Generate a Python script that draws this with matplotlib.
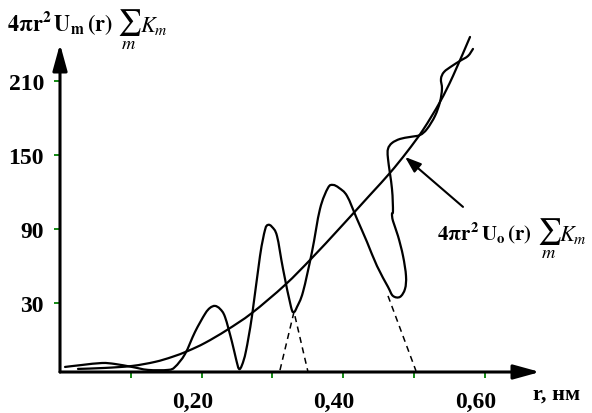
import numpy as np
import matplotlib.pyplot as plt
from matplotlib.path import Path
from matplotlib.patches import PathPatch
from matplotlib.transforms import ScaledTranslation

plt.rcParams['font.family'] = ['Liberation Serif', 'DejaVu Serif']
plt.rcParams['mathtext.fontset'] = 'stix'

# 4pi r^2 U_m(r) sum K_m  (oscillating curve)
r_m = [0.0071, 0.0311, 0.0593, 0.0777, 0.1017, 0.1243, 0.1525, 0.1624, 0.1766, 0.1907,
       0.2048, 0.2119, 0.2189, 0.2260, 0.2331, 0.2429, 0.2486, 0.2528, 0.2571, 0.2627,
       0.2712, 0.2825, 0.2896, 0.2938, 0.2994, 0.3065, 0.3150, 0.3263, 0.3305, 0.3347,
       0.3432, 0.3559, 0.3672, 0.3785, 0.3856, 0.3941, 0.4054, 0.4195, 0.4336, 0.4477,
       0.4633, 0.4703, 0.4802, 0.4873, 0.4887, 0.4845, 0.4774, 0.4703, 0.4689, 0.4703,
       0.4689, 0.4633, 0.4633, 0.4689, 0.4802, 0.4944, 0.5085, 0.5184, 0.5297, 0.5367,
       0.5395, 0.5381, 0.5424, 0.5537, 0.5650, 0.5763, 0.5833]
g_m = [-21.9, -20.3, -18.7, -19.5, -21.9, -24.3, -24.3, -21.9, -11.4, 6.5,
       21.1, 26.0, 27.6, 25.2, 18.6, -1.6, -15.4, -23.5, -20.3, -8.9,
       19.5, 68.1, 89.3, 93.3, 91.7, 84.3, 57.6, 26.7, 22.7, 26.7,
       38.9, 71.4, 106.2, 123.3, 125.7, 123.3, 116.8, 98.1, 79.5, 60.0,
       43.0, 35.7, 34.9, 41.4, 51.9, 68.1, 84.3, 96.5, 102.2, 104.6,
       122.5, 146.8, 154.9, 159.7, 163.0, 164.6, 166.2, 171.1, 181.7, 193.0,
       203.6, 211.7, 217.3, 222.2, 226.3, 230.3, 236.0]

# 4pi r^2 U_o(r) sum K_m  (smooth curve)
r_o = [0.0254, 0.0636, 0.1017, 0.1342, 0.1582, 0.1808, 0.2048, 0.2359, 0.2712, 0.3178,
       0.3559, 0.3955, 0.4379, 0.4661, 0.4901, 0.5127, 0.5367, 0.5551, 0.5791]
g_o = [-23.5, -22.7, -21.1, -17.8, -13.8, -8.9, -2.4, 8.1, 21.9, 44.6,
       66.5, 90.9, 117.6, 135.5, 152.5, 170.3, 193.0, 214.1, 245.7]

# dashed continuations
r_d1 = [0.3107, 0.3305, 0.3503]
g_d1 = [-24.5, 22.7, -26.0]
r_d2 = [0.4633, 0.5028]
g_d2 = [35.7, -25.1]

x_ticks = [0.1, 0.2, 0.3, 0.4, 0.5, 0.6]
x_labels = ['', '0,20', '', '0,40', '', '0,60']
y_ticks = [30, 90, 150, 210]
y_labels = ['30', '90', '150', '210']


def smooth_path(xs, ys):
    # bezier segments passing through the read points
    p = np.column_stack([xs, ys])
    verts = [p[0]]
    codes = [Path.MOVETO]
    n = len(p)
    for i in range(n - 1):
        p0 = p[i - 1] if i > 0 else p[i]
        p3 = p[i + 2] if i + 2 < n else p[i + 1]
        c1 = p[i] + (p[i + 1] - p0) / 6
        c2 = p[i + 1] - (p3 - p[i]) / 6
        verts += [c1, c2, p[i + 1]]
        codes += [Path.CURVE4] * 3
    return Path(verts, codes)


fig = plt.figure(figsize=(5.92, 4.14), dpi=100)
ax = fig.add_axes([60 / 592, 41 / 414, 480 / 592, 328 / 414])
ax.set_xlim(0, 480 / 708)
ax.set_ylim(-26, 240)
for s in ax.spines.values():
    s.set_visible(False)

# axes with arrows
arr = dict(arrowstyle='-|>,head_length=0.8,head_width=0.22', lw=2.2, color='black',
           mutation_scale=20, shrinkA=0, shrinkB=0)
ax.annotate('', xy=(1, 0), xytext=(0, 0), xycoords='axes fraction', arrowprops=arr)
ax.annotate('', xy=(0, 1), xytext=(0, 0), xycoords='axes fraction', arrowprops=arr)

for xs, ys in [(r_m, g_m), (r_o, g_o)]:
    ax.add_patch(PathPatch(smooth_path(xs, ys), fill=False, lw=1.6, edgecolor='black',
                           joinstyle='round', capstyle='round', clip_on=False))
ax.plot(r_d1, g_d1, color='black', lw=1.1, ls=(0, (4, 3)))
ax.plot(r_d2, g_d2, color='black', lw=1.1, ls=(0, (4, 3)))

ax.set_xticks(x_ticks, x_labels)
ax.set_yticks(y_ticks, y_labels)
ax.tick_params(direction='out', length=4.5, width=1.3, color='green', labelsize=17)
ax.tick_params(axis='x', pad=9)
ax.tick_params(axis='y', pad=7)
for lab in ax.get_xticklabels() + ax.get_yticklabels():
    lab.set_fontweight('bold')
for lab in ax.get_xticklabels():
    lab.set_transform(lab.get_transform() + ScaledTranslation(-0.09, 0, fig.dpi_scale_trans))


def formula(x, y, sub, size, dx_sum, dx_k):
    # x, y: left / baseline in pixels from the top-left corner
    fig.text(x / 592, 1 - y / 414, r'$\mathbf{4\pi r^2\,U_%s\,(r)}$' % sub,
             fontsize=size, va='baseline')
    fig.text((x + dx_sum) / 592, 1 - (y - 1) / 414, r'$\sum_m$', fontsize=19, va='baseline')
    fig.text((x + dx_k) / 592, 1 - (y + 1) / 414, r'$K_m$', fontsize=16, va='baseline')


formula(7, 31, 'm', 16, 110, 133)
formula(437, 240, 'o', 15, 100, 122)
fig.text(533 / 592, 1 - 400 / 414, 'r, нм', fontsize=16, fontweight='bold', va='baseline')

ax.annotate('', xy=(0.4873, 148.4), xytext=(0.5692, 107.9),
            arrowprops=dict(arrowstyle='-|>,head_length=0.7,head_width=0.25', lw=1.5,
                            color='black', mutation_scale=14, shrinkA=0, shrinkB=0))

fig.savefig('out.png', dpi=100)
